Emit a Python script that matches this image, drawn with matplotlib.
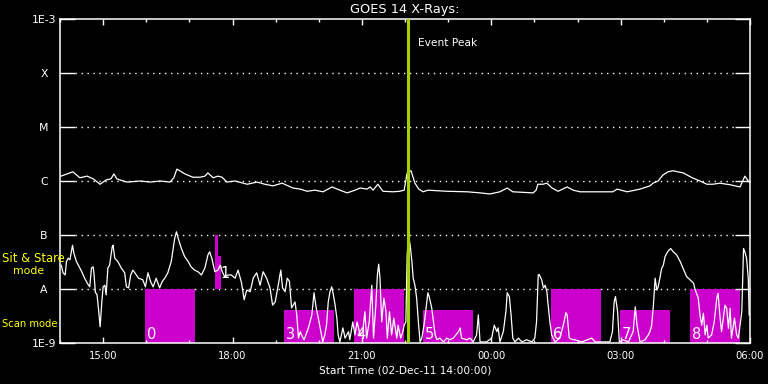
import matplotlib
matplotlib.use("Agg")
import matplotlib.pyplot as plt
import matplotlib.transforms as mtransforms
import numpy as np

##### Data #####
# time in hours after the start time (02-Dec-11 14:00:00), flux as log10(W/m^2)
long_t = [0.02, 0.30, 0.46, 0.63, 0.77, 0.93, 1.07, 1.18, 1.25, 1.32, 1.39, 1.55, 1.86, 2.09,
          2.32, 2.55, 2.64, 2.71, 2.90, 3.08, 3.25, 3.36, 3.43, 3.55, 3.66, 3.76, 3.87, 4.06,
          4.34, 4.57, 4.75, 4.94, 5.15, 5.40, 5.57, 5.73, 5.91, 6.10, 6.31, 6.49, 6.66, 6.84,
          6.96, 7.12, 7.19, 7.26, 7.37, 7.49, 7.72, 7.88, 7.98, 8.05, 8.14, 8.23, 8.32, 8.42,
          8.53, 8.97, 9.44, 9.74, 9.97, 10.20, 10.37, 10.50, 10.97, 11.04, 11.08, 11.20, 11.29,
          11.41, 11.55, 11.76, 11.90, 12.06, 12.52, 12.82, 12.92, 13.15, 13.45, 13.68, 13.75,
          13.87, 13.98, 14.10, 14.21, 14.45, 14.66, 14.84, 15.00, 15.14, 15.30, 15.54, 15.77,
          15.88, 15.98]
long_log = [-5.91, -5.83, -5.94, -5.91, -5.96, -6.06, -5.98, -5.96, -5.87, -5.96, -5.98, -6.02,
            -6.00, -6.02, -6.00, -6.02, -5.94, -5.78, -5.87, -5.93, -5.93, -5.91, -5.85, -5.94,
            -5.91, -5.93, -6.02, -6.00, -6.06, -6.02, -6.06, -6.09, -6.04, -6.13, -6.15, -6.19,
            -6.17, -6.20, -6.11, -6.17, -6.22, -6.17, -6.13, -6.15, -6.11, -6.17, -6.06, -6.19,
            -6.20, -6.19, -6.17, -5.85, -5.81, -6.04, -6.15, -6.20, -6.17, -6.19, -6.20, -6.22,
            -6.24, -6.20, -6.13, -6.20, -6.22, -6.17, -6.06, -6.06, -6.04, -6.13, -6.19, -6.11,
            -6.17, -6.20, -6.20, -6.20, -6.15, -6.20, -6.15, -6.09, -6.04, -6.00, -5.89, -5.83,
            -5.81, -5.85, -5.94, -6.00, -6.06, -6.06, -6.04, -6.07, -6.11, -5.91, -6.02]

short_t = [0.03, 0.07, 0.12, 0.15, 0.19, 0.23, 0.29, 0.32, 0.38, 0.46, 0.51, 0.57, 0.63, 0.69,
           0.73, 0.77, 0.79, 0.82, 0.86, 0.90, 0.93, 0.97, 1.00, 1.04, 1.07, 1.11, 1.15, 1.21,
           1.23, 1.27, 1.34, 1.42, 1.50, 1.54, 1.59, 1.64, 1.69, 1.77, 1.82, 1.92, 1.98, 2.04,
           2.10, 2.16, 2.23, 2.31, 2.37, 2.43, 2.50, 2.58, 2.66, 2.70, 2.74, 2.81, 2.89, 2.97,
           3.04, 3.12, 3.20, 3.28, 3.36, 3.43, 3.47, 3.52, 3.59, 3.66, 3.72, 3.76, 3.82, 3.90,
           3.97, 4.06, 4.13, 4.21, 4.27, 4.33, 4.41, 4.48, 4.56, 4.64, 4.71, 4.79, 4.87, 4.93,
           4.99, 5.06, 5.12, 5.16, 5.22, 5.27, 5.32, 5.37, 5.45, 5.49, 5.53, 5.57, 5.60, 5.66,
           5.76, 5.84, 5.89, 5.94, 5.99, 6.05, 6.09, 6.14, 6.18, 6.22, 6.26, 6.30, 6.34, 6.38,
           6.42, 6.45, 6.49, 6.56, 6.61, 6.69, 6.72, 6.79, 6.84, 6.89, 6.96, 7.02, 7.07, 7.11,
           7.17, 7.23, 7.27, 7.32, 7.36, 7.39, 7.42, 7.46, 7.51, 7.56, 7.59, 7.64, 7.69, 7.74,
           7.81, 7.84, 7.90, 7.95, 7.98, 8.02, 8.05, 8.08, 8.12, 8.16, 8.19, 8.23, 8.27, 8.31,
           8.35, 8.39, 8.44, 8.49, 8.53, 8.56, 8.62, 8.66, 8.70, 8.74, 8.81, 8.89, 8.97, 9.04,
           9.12, 9.24, 9.28, 9.31, 9.43, 9.51, 9.58, 9.66, 9.70, 9.74, 9.89, 10.01, 10.07, 10.13,
           10.16, 10.20, 10.28, 10.34, 10.37, 10.42, 10.46, 10.50, 10.55, 10.63, 10.71, 10.82,
           10.94, 11.01, 11.05, 11.09, 11.11, 11.17, 11.21, 11.25, 11.29, 11.32, 11.36, 11.40,
           11.48, 11.59, 11.67, 11.73, 11.76, 11.81, 11.90, 11.94, 12.10, 12.33, 12.41, 12.68,
           12.75, 12.81, 12.85, 12.88, 12.93, 12.97, 13.06, 13.18, 13.29, 13.34, 13.38, 13.45,
           13.57, 13.64, 13.68, 13.72, 13.76, 13.80, 13.84, 13.87, 13.91, 13.95, 13.99, 14.03,
           14.09, 14.16, 14.22, 14.30, 14.38, 14.45, 14.53, 14.61, 14.69, 14.72, 14.80, 14.84,
           14.88, 14.92, 14.96, 15.00, 15.03, 15.11, 15.17, 15.23, 15.26, 15.30, 15.34, 15.38,
           15.42, 15.46, 15.50, 15.54, 15.57, 15.64, 15.69, 15.73, 15.77, 15.81, 15.85, 15.88,
           15.92, 15.96, 15.98]
short_log = [-7.56, -7.70, -7.74, -7.49, -7.43, -7.46, -7.19, -7.33, -7.49, -7.61, -7.69, -7.80,
             -7.89, -7.96, -7.61, -7.59, -7.74, -8.06, -8.11, -8.43, -8.70, -8.24, -7.96, -7.93,
             -8.11, -7.61, -7.56, -7.22, -7.19, -7.43, -7.49, -7.61, -7.70, -7.96, -7.98, -7.74,
             -7.65, -7.74, -7.80, -7.83, -7.96, -7.70, -7.86, -7.96, -7.80, -7.98, -7.86, -7.80,
             -7.70, -7.49, -7.06, -6.94, -7.06, -7.24, -7.40, -7.49, -7.59, -7.65, -7.68, -7.74,
             -7.61, -7.37, -7.31, -7.43, -7.68, -7.65, -7.56, -7.68, -7.77, -7.74, -7.74, -7.80,
             -7.65, -7.89, -8.20, -8.02, -8.05, -7.80, -7.70, -7.93, -7.68, -7.80, -7.98, -8.30,
             -8.24, -7.93, -7.65, -7.98, -8.05, -7.80, -7.86, -8.35, -8.24, -8.48, -8.91, -8.79,
             -8.85, -8.94, -8.72, -8.48, -8.07, -8.35, -8.54, -8.79, -8.98, -8.85, -8.67, -8.24,
             -8.05, -7.96, -8.11, -8.30, -8.54, -8.85, -8.98, -8.72, -8.91, -8.79, -8.94, -8.61,
             -8.85, -8.61, -8.85, -8.79, -8.42, -8.91, -8.61, -7.93, -8.91, -8.35, -7.74, -7.54,
             -7.80, -8.61, -8.17, -8.42, -8.91, -8.42, -8.85, -8.54, -8.91, -8.67, -8.91, -8.79,
             -8.67, -8.61, -7.37, -7.00, -7.19, -7.49, -7.80, -7.93, -8.17, -8.61, -8.98, -8.91,
             -8.67, -8.35, -8.07, -8.14, -8.35, -8.61, -8.85, -8.94, -8.91, -8.98, -8.91, -8.94,
             -8.91, -8.79, -8.72, -8.91, -8.94, -8.91, -8.98, -8.85, -8.48, -8.98, -8.98, -8.91,
             -8.67, -8.79, -8.72, -8.98, -8.79, -8.42, -8.07, -8.14, -8.48, -8.91, -8.98, -8.91,
             -8.98, -8.94, -8.98, -8.91, -8.61, -7.74, -7.73, -7.83, -7.98, -7.93, -8.05, -8.30,
             -8.61, -8.85, -8.98, -8.91, -8.67, -8.44, -8.48, -8.91, -8.94, -8.94, -8.98, -8.91,
             -8.98, -8.98, -8.98, -8.79, -8.24, -8.14, -8.42, -8.98, -8.94, -8.98, -8.79, -8.33,
             -8.67, -8.98, -8.94, -8.85, -8.79, -8.67, -8.30, -7.80, -8.02, -7.96, -7.80, -7.62,
             -7.56, -7.40, -7.31, -7.25, -7.31, -7.37, -7.49, -7.62, -7.77, -7.83, -7.89, -7.99,
             -8.17, -8.48, -8.67, -8.45, -8.85, -8.67, -8.91, -8.85, -8.61, -8.17, -8.08, -8.48,
             -8.79, -8.54, -8.30, -8.36, -8.73, -8.36, -8.91, -8.54, -8.85, -8.91, -8.67, -8.42,
             -7.25, -7.31, -7.43, -7.80, -8.48]

# observing blocks: start/end hour, bottom/top flux (log10), label
box_start = [1.97, 3.59, 3.66, 5.19, 6.82, 8.42, 11.39, 12.99, 14.61]
box_end = [3.13, 3.66, 3.73, 6.35, 7.98, 9.58, 12.55, 14.15, 15.77]
box_bottom = [-9, -8, -8, -9, -9, -9, -9, -9, -9]
box_top = [-8, -7, -7.39, -8.39, -8, -8.39, -8, -8.39, -8]
box_labels = ["0", "", "", "3", "4", "5", "6", "7", "8"]
label1_pos = (3.71, -7.80)

event_peak = 8.07

ytick_log = [-9, -8, -7, -6, -5, -4, -3]
ytick_labels = ["1E-9", "A", "B", "C", "M", "X", "1E-3"]
xtick_hours = [1, 4, 7, 10, 13, 16]
xtick_labels = ["15:00", "18:00", "21:00", "00:00", "03:00", "06:00"]

##### Plot #####
fig = plt.figure(figsize=(7.68, 3.84), dpi=100, facecolor="black")
ax = fig.add_axes([60 / 768, 41 / 384, 690 / 768, 324 / 384], facecolor="black")
ax.set_yscale("log")
ax.set_xlim(0, 16)
ax.set_ylim(1e-9, 1e-3)

magenta = "#cc00cc"
for s, e, b, t in zip(box_start, box_end, box_bottom, box_top):
    ax.bar(s, 10.0 ** t - 10.0 ** b, width=e - s, bottom=10.0 ** b, align="edge",
           color=magenta, linewidth=0, zorder=1)

for s, b, lab in zip(box_start, box_bottom, box_labels):
    if lab:
        ax.text(s + 0.04, 10.0 ** (b + 0.075), lab, color="white", fontsize=10.5,
                ha="left", va="baseline", zorder=4)
ax.text(label1_pos[0], 10.0 ** label1_pos[1], "1", color="white", fontsize=10.5,
        ha="left", va="baseline", zorder=4)

# dotted level lines between the long ticks
for lv in ytick_log[1:-1]:
    ax.axhline(10.0 ** lv, xmin=15 / 690, xmax=675 / 690, color="white", lw=1.0,
               ls=(0, (1, 3.3)), zorder=0.5)

ax.plot(long_t, 10.0 ** np.array(long_log), color="white", lw=0.9, zorder=2)
ax.plot(short_t, 10.0 ** np.array(short_log), color="white", lw=0.9, zorder=2)

ax.axvline(event_peak, color="#a6d000", lw=2.2, zorder=3)
ax.text(event_peak + 0.23, 10.0 ** -3.45, "Event Peak", color="white", fontsize=7.7,
        ha="left", va="center")

ax.set_title("GOES 14 X-Rays:", color="white", fontsize=9.3, pad=4)

ax.set_xticks(xtick_hours)
ax.set_xticklabels(xtick_labels)
ax.set_xticks(np.arange(0, 17, 1), minor=True)
ax.set_yticks([10.0 ** v for v in ytick_log])
ax.set_yticklabels(ytick_labels)
ax.yaxis.set_minor_locator(matplotlib.ticker.NullLocator())
ax.tick_params(axis="x", which="major", direction="in", length=4.5, width=1, color="white",
               labelcolor="white", labelsize=7.2, top=True, pad=6)
ax.tick_params(axis="x", which="minor", direction="in", length=2.2, width=1, color="white",
               top=True)
ax.tick_params(axis="y", which="major", direction="in", length=10.5, width=1, color="white",
               labelcolor="white", labelsize=7.8, right=True, pad=11.5)
for lab in ax.get_yticklabels():
    lab.set_ha("center")
ax.set_xlabel("Start Time (02-Dec-11 14:00:00)", color="white", fontsize=7.6, labelpad=3)

for sp in ax.spines.values():
    sp.set_color("white")
    sp.set_linewidth(1.1)

# mode annotations on the left margin
trans = mtransforms.blended_transform_factory(fig.transFigure, ax.transData)
ax.text(2 / 768, 10.0 ** -7.44, "Sit & Stare", color="#ffff00", fontsize=8.4,
        ha="left", va="center", transform=trans, zorder=5)
ax.text(13 / 768, 10.0 ** -7.67, "mode", color="#ffff00", fontsize=7.8,
        ha="left", va="center", transform=trans)
ax.text(2 / 768, 10.0 ** -8.65, "Scan mode", color="#ffff00", fontsize=7.2,
        ha="left", va="center", transform=trans)

fig.savefig("out.png", dpi=100, facecolor="black")
